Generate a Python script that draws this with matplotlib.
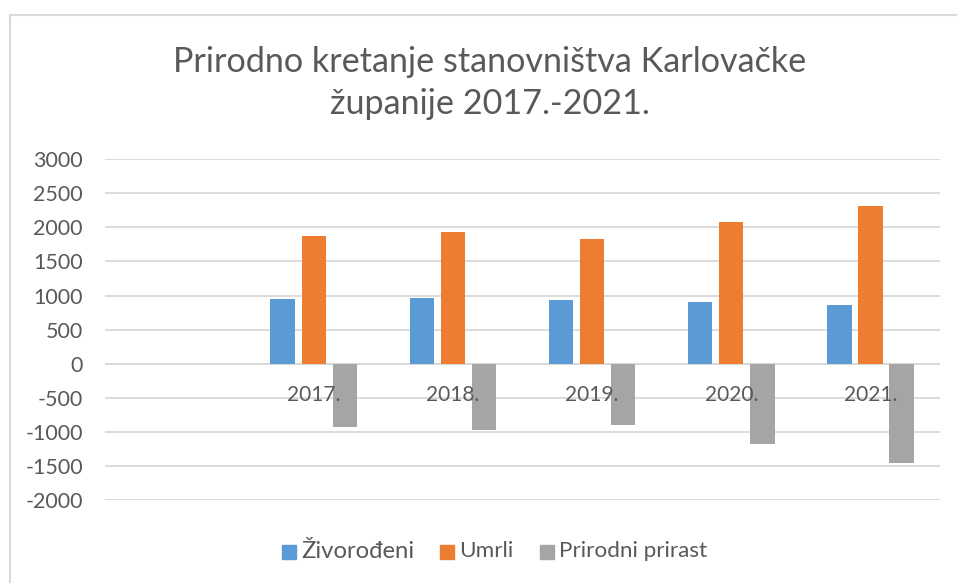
import matplotlib
matplotlib.use("Agg")
import matplotlib.pyplot as plt
from matplotlib.patches import Rectangle
import numpy as np

categories = ["", "2017.", "2018.", "2019.", "2020.", "2021."]
zivorodeni = [None, 944, 963, 934, 905, 861]
umrli = [None, 1872, 1935, 1833, 2078, 2317]
prirast = [None, -928, -972, -899, -1173, -1456]
series_names = ["Živorođeni", "Umrli", "Prirodni prirast"]
colors = ["#5B9BD5", "#ED7D31", "#A5A5A5"]
yticks = [-2000, -1500, -1000, -500, 0, 500, 1000, 1500, 2000, 2500, 3000]

W, H = 957, 583
fig = plt.figure(figsize=(W / 100, H / 100), dpi=100)
FONT = ["Lato", "DejaVu Sans"]
TXT = "#595959"

def fx(px):
    return px / W

def fy(py):
    return 1 - py / H

ax_left, ax_right = 105, 940
ax_top, ax_bot = 159, 500.3
ax = fig.add_axes([fx(ax_left), fy(ax_bot), fx(ax_right - ax_left), (ax_bot - ax_top) / H])

x = np.arange(len(categories))
bw = 0.176
step = 0.223
for k, (vals, c) in enumerate(zip([zivorodeni, umrli, prirast], colors)):
    xs = [xi + (k - 1) * step for xi, v in zip(x, vals) if v is not None]
    vs = [v for v in vals if v is not None]
    ax.bar(xs, vs, width=bw, color=c, zorder=3, label=series_names[k])

ax.set_xlim(-0.5, len(categories) - 0.5)
ax.set_ylim(yticks[0], yticks[-1])
ax.set_yticks(yticks)
ax.set_yticklabels([str(t) for t in yticks], fontsize=15.5, color=TXT, family=FONT)
ax.tick_params(axis="y", length=0, pad=16)
ax.set_xticks([])
ax.grid(axis="y", color="#D9D9D9", linewidth=1.3, zorder=0)
ax.axhline(0, color="#D9D9D9", linewidth=1.4, zorder=2)
for s in ax.spines.values():
    s.set_visible(False)

for xi, lab in zip(x, categories):
    if lab:
        ax.annotate(lab, (xi, 0), xytext=(0, -31 * 72 / 100), textcoords="offset points",
                    ha="center", va="center", fontsize=15, color=TXT, family=FONT, zorder=4)

# title
fig.text(fx(490), fy(62), "Prirodno kretanje stanovništva Karlovačke", ha="center", va="center",
         fontsize=24.6, color=TXT, family=FONT)
fig.text(fx(490), fy(104), "županije 2017.-2021.", ha="center", va="center",
         fontsize=24.6, color=TXT, family=FONT)

# chart border (left and top)
fig.add_artist(plt.Line2D([fx(10), fx(10)], [fy(15), 0], color="#D9D9D9", lw=1.5))
fig.add_artist(plt.Line2D([fx(10), 1], [fy(15), fy(15)], color="#D9D9D9", lw=1.5))

# legend
leg_items = [(282, 301, series_names[0], 17.2), (440, 459, series_names[1], 16.2), (540, 559, series_names[2], 16.2)]
for (sx, tx, name, fs), c in zip(leg_items, colors):
    fig.add_artist(Rectangle((fx(sx), fy(559)), fx(14), 14 / H, color=c, transform=fig.transFigure))
    fig.text(fx(tx), fy(551), name, ha="left", va="center", fontsize=fs, color=TXT, family=FONT)

fig.savefig("out.png", dpi=100, facecolor="white")
